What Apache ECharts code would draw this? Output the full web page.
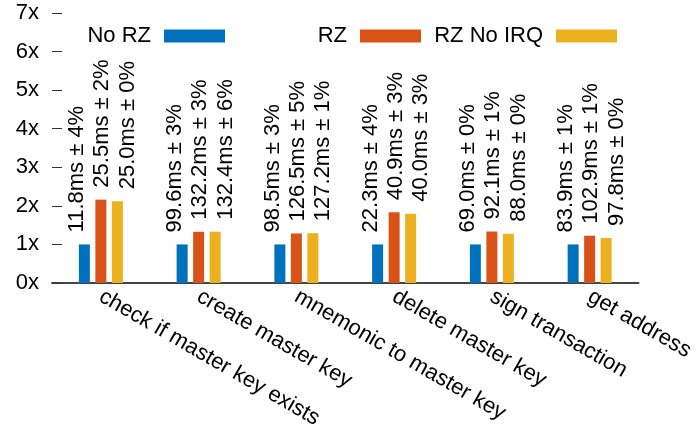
<!DOCTYPE html>
<html>
<head>
<meta charset="utf-8">
<script src="https://cdn.jsdelivr.net/npm/echarts@6/dist/echarts.min.js"></script>
<style>
  html, body { margin: 0; padding: 0; background: #fff; }
  #chart { width: 697px; height: 432px; }
</style>
</head>
<body>
<div id="chart"></div>
<script>
// Operation names along the x axis
const categories = [
  'check if master key exists',
  'create master key',
  'mnemonic to master key',
  'delete master key',
  'sign transaction',
  'get address'
];

// Mean run time (ms) and relative spread (%) per configuration
const noRzMs     = [11.8, 99.6, 98.5, 22.3, 69.0, 83.9];
const noRzPct    = [4, 3, 3, 4, 0, 1];
const rzMs       = [25.5, 132.2, 126.5, 40.9, 92.1, 102.9];
const rzPct      = [2, 3, 5, 3, 1, 1];
const rzNoIrqMs  = [25.0, 132.4, 127.2, 40.0, 88.0, 97.8];
const rzNoIrqPct = [0, 6, 1, 3, 0, 0];

// Y axis tick labels
const yTicks = ['0x', '1x', '2x', '3x', '4x', '5x', '6x', '7x'];

const FONT = 'Liberation Sans, Arial, Helvetica, sans-serif';
const colors = ['#0072BD', '#D95319', '#EDB120'];

// Bars show slowdown relative to the No RZ baseline
function normalized(ms) {
  return ms.map((v, i) => v / noRzMs[i]);
}

function makeSeries(name, ms, pct, color, shift) {
  return {
    name: name,
    type: 'bar',
    barWidth: 11,
    barGap: '50%',
    itemStyle: { color: color },
    data: normalized(ms),
    label: {
      show: true,
      position: 'top',
      rotate: 90,
      align: 'left',
      verticalAlign: 'middle',
      distance: 12,
      offset: [0, shift],
      fontFamily: FONT,
      fontSize: 22,
      color: '#000',
      formatter: p => ms[p.dataIndex].toFixed(1) + 'ms ± ' + pct[p.dataIndex] + '%'
    }
  };
}

function legendAt(name, right) {
  return {
    data: [name],
    right: right,
    top: 25,
    padding: 0,
    align: 'right',
    icon: 'rect',
    itemWidth: 61,
    itemHeight: 13,
    selectedMode: false,
    textStyle: { fontFamily: FONT, fontSize: 22, color: '#000', padding: [0, 8, 0, 0] }
  };
}

const chart = echarts.init(document.getElementById('chart'), null, { renderer: 'canvas' });
chart.setOption({
  animation: false,
  backgroundColor: '#fff',
  grid: { left: 52, right: 55, top: 13, bottom: 149, containLabel: false },
  legend: [
    legendAt('No RZ', 472),
    legendAt('RZ', 276),
    legendAt('RZ No IRQ', 80)
  ],
  xAxis: {
    type: 'category',
    data: categories,
    axisLine: { show: true, lineStyle: { color: '#444', width: 2 } },
    axisTick: { show: false },
    axisLabel: {
      interval: 0,
      rotate: -30,
      margin: 12,
      fontFamily: FONT,
      fontSize: 22,
      color: '#000'
    }
  },
  yAxis: {
    type: 'value',
    min: 0,
    max: 7,
    interval: 1,
    axisLine: { show: false },
    splitLine: { show: false },
    axisTick: { show: true, inside: true, length: 10, lineStyle: { color: '#333', width: 1 } },
    axisLabel: {
      margin: 13,
      fontFamily: FONT,
      fontSize: 22,
      color: '#000',
      formatter: v => yTicks[v]
    }
  },
  series: [
    makeSeries('No RZ', noRzMs, noRzPct, colors[0], -7),
    makeSeries('RZ', rzMs, rzPct, colors[1], 1.5),
    makeSeries('RZ No IRQ', rzNoIrqMs, rzNoIrqPct, colors[2], 10.5)
  ]
});
</script>
</body>
</html>
